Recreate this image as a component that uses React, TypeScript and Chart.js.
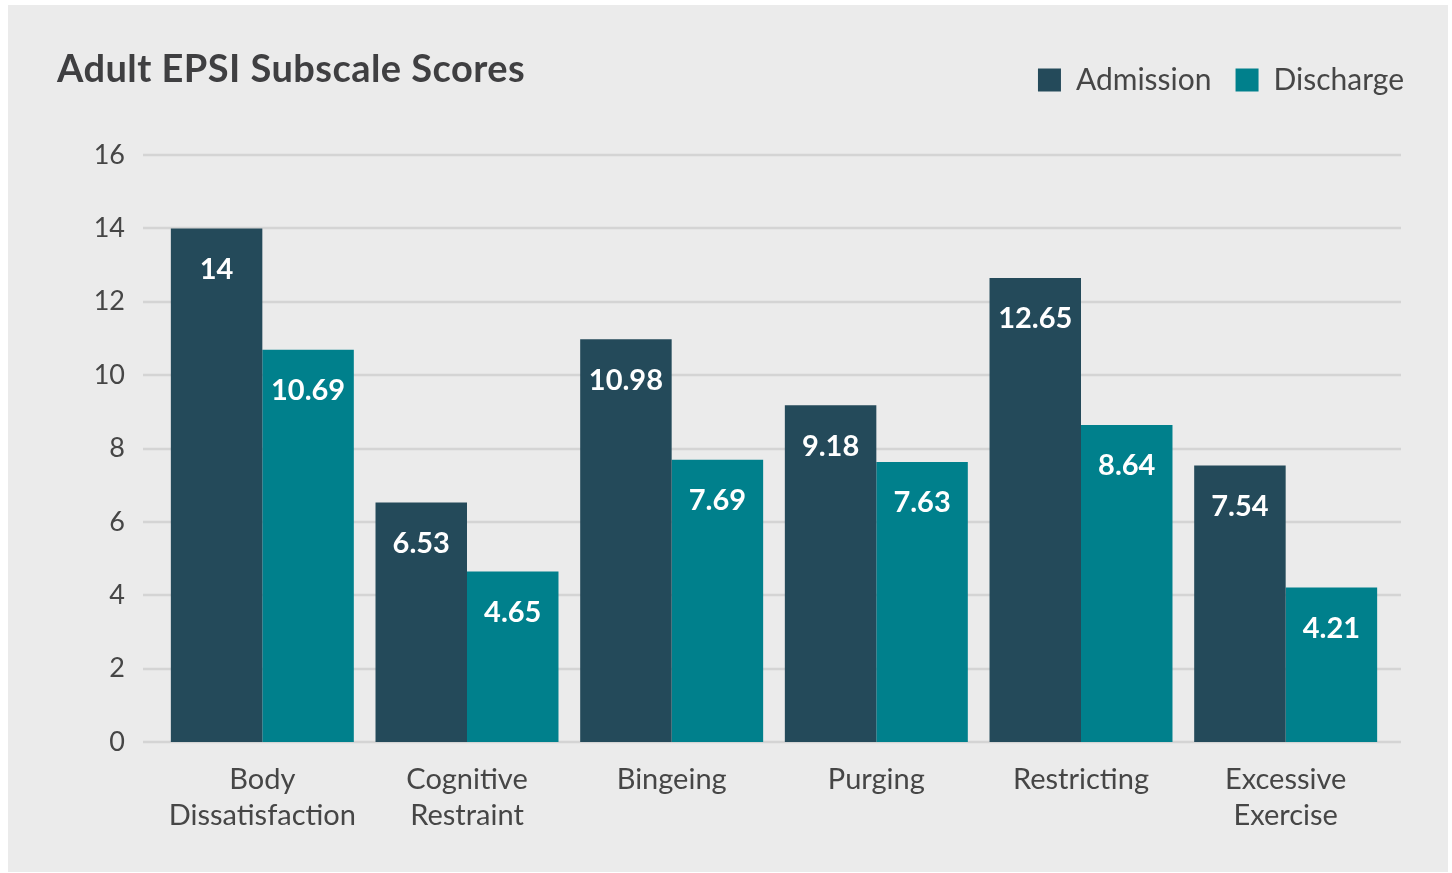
import React, { useEffect, useRef } from "react";
import { Chart, registerables } from "chart.js";

Chart.register(...registerables);

const categories: string[][] = [
  ["Body", "Dissatisfaction"],
  ["Cognitive", "Restraint"],
  ["Bingeing"],
  ["Purging"],
  ["Restricting"],
  ["Excessive", "Exercise"],
];
const admission: number[] = [14, 6.53, 10.98, 9.18, 12.65, 7.54];
const discharge: number[] = [10.69, 4.65, 7.69, 7.63, 8.64, 4.21];
const seriesNames: string[] = ["Admission", "Discharge"];
const yTicks = { min: 0, max: 16, step: 2 };
const titleText = "Adult EPSI Subscale Scores";

const COLORS = { admission: "#244A5A", discharge: "#00808C", text: "#464646", grid: "#D4D4D4", bg: "#EBEBEB" };
const FONT = "Lato, 'Open Sans', sans-serif";

const gridPlugin = {
  id: "extGrid",
  beforeDatasetsDraw(chart: any) {
    const { ctx, chartArea } = chart;
    const y = chart.scales.y;
    ctx.save();
    ctx.strokeStyle = COLORS.grid;
    ctx.lineWidth = 2.5;
    y.ticks.forEach((t: any) => {
      const py = Math.round(y.getPixelForValue(t.value));
      ctx.beginPath();
      ctx.moveTo(chartArea.left - 17, py);
      ctx.lineTo(chartArea.right + 13, py);
      ctx.stroke();
    });
    ctx.restore();
  },
};

const labelPlugin = {
  id: "barLabels",
  afterDatasetsDraw(chart: any) {
    const { ctx } = chart;
    ctx.save();
    ctx.fillStyle = "#FFFFFF";
    ctx.font = `bold 29px ${FONT}`;
    ctx.textAlign = "center";
    ctx.textBaseline = "middle";
    chart.data.datasets.forEach((ds: any, di: number) => {
      const meta = chart.getDatasetMeta(di);
      meta.data.forEach((el: any, i: number) => {
        ctx.fillText(String(ds.data[i]), el.x, el.y + 41);
      });
    });
    ctx.restore();
  },
};

export default function App() {
  const canvasRef = useRef<HTMLCanvasElement | null>(null);

  useEffect(() => {
    if (!canvasRef.current) return;
    const chart = new Chart(canvasRef.current, {
      type: "bar",
      data: {
        labels: categories,
        datasets: [
          { label: seriesNames[0], data: admission, backgroundColor: COLORS.admission, borderWidth: 0 },
          { label: seriesNames[1], data: discharge, backgroundColor: COLORS.discharge, borderWidth: 0 },
        ],
      },
      options: {
        animation: false,
        responsive: true,
        maintainAspectRatio: false,
        layout: { padding: { top: 36, right: 20, bottom: 0, left: 0 } },
        datasets: { bar: { categoryPercentage: 0.894, barPercentage: 1.0 } },
        plugins: {
          legend: {
            position: "top",
            align: "end",
            labels: {
              boxWidth: 23,
              boxHeight: 23,
              padding: 24,
              color: COLORS.text,
              font: { family: FONT, size: 30 },
            },
          },
          tooltip: { enabled: false },
          title: { display: false },
        },
        scales: {
          x: {
            grid: { display: false, drawTicks: false },
            border: { display: false },
            ticks: {
              color: COLORS.text,
              padding: 19,
              font: { family: FONT, size: 29, lineHeight: 1.26 },
              maxRotation: 0,
              autoSkip: false,
            },
            afterFit: (s: any) => { s.height = 130; },
          },
          x2: {
            type: "category",
            position: "top",
            display: true,
            grid: { display: false, drawTicks: false },
            border: { display: false },
            ticks: { display: false },
            afterFit: (s: any) => { s.height = 50; },
          },
          y: {
            min: yTicks.min,
            max: yTicks.max,
            ticks: {
              stepSize: yTicks.step,
              color: COLORS.text,
              padding: 35,
              font: { family: FONT, size: 27 },
            },
            grid: { display: false, drawTicks: false },
            border: { display: false },
            afterFit: (s: any) => { s.width = 152; },
          },
          y2: {
            type: "linear",
            position: "right",
            display: true,
            grid: { display: false, drawTicks: false },
            border: { display: false },
            ticks: { display: false },
            afterFit: (s: any) => { s.width = 40; },
          },
        },
      },
      plugins: [gridPlugin, labelPlugin],
    } as any);
    return () => chart.destroy();
  }, []);

  return (
    <div
      style={{
        position: "fixed",
        left: 8,
        top: 5,
        width: 1440,
        height: 867,
        background: COLORS.bg,
      }}
    >
      <div
        style={{
          position: "absolute",
          left: 49,
          top: 40,
          fontFamily: FONT,
          fontWeight: 700,
          fontSize: 38,
          letterSpacing: "0.45px",
          lineHeight: "44px",
          color: "#3F3F41",
          whiteSpace: "nowrap",
          zIndex: 2,
        }}
      >
        {titleText}
      </div>
      <canvas ref={canvasRef} style={{ position: "absolute", left: 0, top: 0, width: 1440, height: 867 }} />
    </div>
  );
}
